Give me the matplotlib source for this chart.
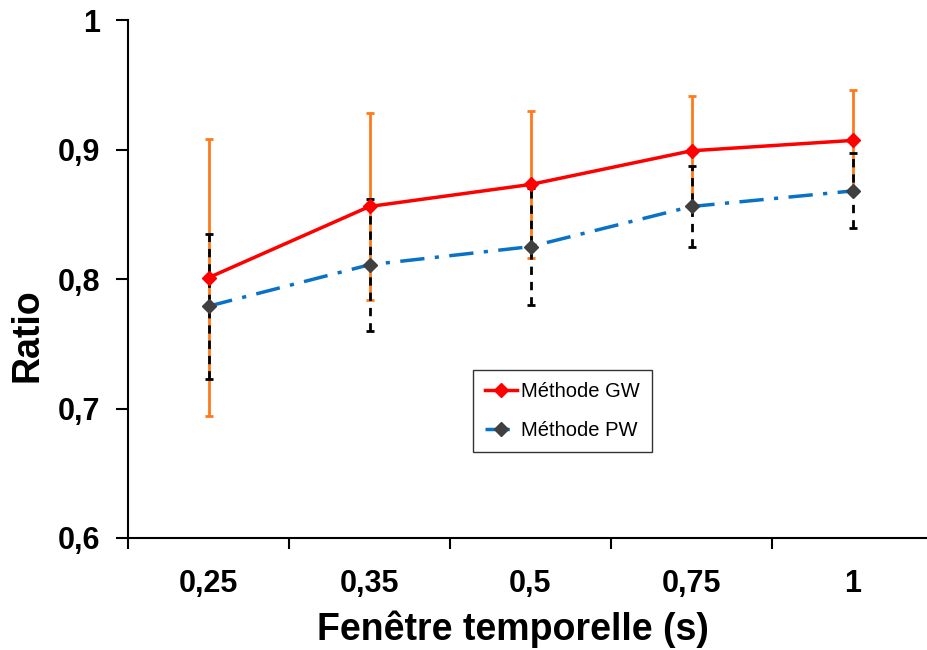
import matplotlib.pyplot as plt

plt.rcParams['font.family'] = ['Liberation Sans', 'DejaVu Sans']

categories = ['0,25', '0,35', '0,5', '0,75', '1']
gw_mean = [0.801, 0.856, 0.873, 0.899, 0.907]
gw_err = [0.107, 0.072, 0.057, 0.042, 0.039]
pw_mean = [0.779, 0.811, 0.825, 0.856, 0.868]
pw_err = [0.056, 0.051, 0.045, 0.031, 0.029]
y_ticks = [0.6, 0.7, 0.8, 0.9, 1.0]
y_labels = ['0,6', '0,7', '0,8', '0,9', '1']

x = list(range(len(categories)))

W, H = 927, 650
fig = plt.figure(figsize=(W / 100, H / 100), dpi=100)
ax = fig.add_axes([128 / W, 112 / H, 805 / W, 518 / H])

# error bars first (orange for GW, black dashed for PW)
ax.errorbar(x, gw_mean, yerr=gw_err, fmt='none', ecolor='#ff7a1c',
            elinewidth=2, capsize=3, capthick=2, zorder=2)
eb2 = ax.errorbar(x, pw_mean, yerr=pw_err, fmt='none', ecolor='black',
                  elinewidth=2, capsize=3, capthick=2, zorder=3)
eb2[2][0].set_linestyle((0, (3, 2.5)))

ax.plot(x, pw_mean, color='#0a72c6', lw=2.5, dashes=(7, 3, 1.2, 3),
        marker='D', markersize=7.5, markerfacecolor='#404040',
        markeredgecolor='#404040', label='Méthode PW', zorder=4)
ax.plot(x, gw_mean, color='#ff0000', lw=2.5, marker='D', markersize=7.5,
        markerfacecolor='#ff0000', markeredgecolor='#ff0000',
        label='Méthode GW', zorder=5)

ax.set_ylim(0.6, 1.0)
ax.set_xlim(-0.5, 4.5)
ax.set_yticks(y_ticks)
ax.set_yticklabels(y_labels, fontsize=22, fontweight='bold')
ax.set_xticks(x)
ax.set_xticklabels(categories, fontsize=22, fontweight='bold')
ax.set_xticks([-0.5, 0.5, 1.5, 2.5, 3.5], minor=True)
ax.tick_params(axis='x', which='major', length=0, pad=22)
ax.tick_params(axis='x', which='minor', length=8, width=1.5)
ax.tick_params(axis='y', length=9, width=1.5, pad=11)

for s in ['top', 'right']:
    ax.spines[s].set_visible(False)
for s in ['left', 'bottom']:
    ax.spines[s].set_linewidth(1.5)

fig.text(28 / W, 1 - 335 / H, 'Ratio', rotation=90, fontsize=27,
         fontweight='bold', ha='center', va='center')
fig.text(513 / W, 1 - 629 / H, 'Fenêtre temporelle (s)', fontsize=27,
         fontweight='bold', ha='center', va='center')

handles, labels = ax.get_legend_handles_labels()
leg = ax.legend(handles[::-1], labels[::-1], loc='upper left',
                bbox_to_anchor=(473 / W, 1 - 370 / H),
                bbox_transform=fig.transFigure, borderaxespad=0,
                fontsize=14.5, frameon=True, fancybox=False,
                edgecolor='black', handlelength=1.6, labelspacing=1.0,
                borderpad=0.6, handletextpad=0.2)
leg.get_frame().set_linewidth(1.0)

fig.savefig('out.png', dpi=100)
